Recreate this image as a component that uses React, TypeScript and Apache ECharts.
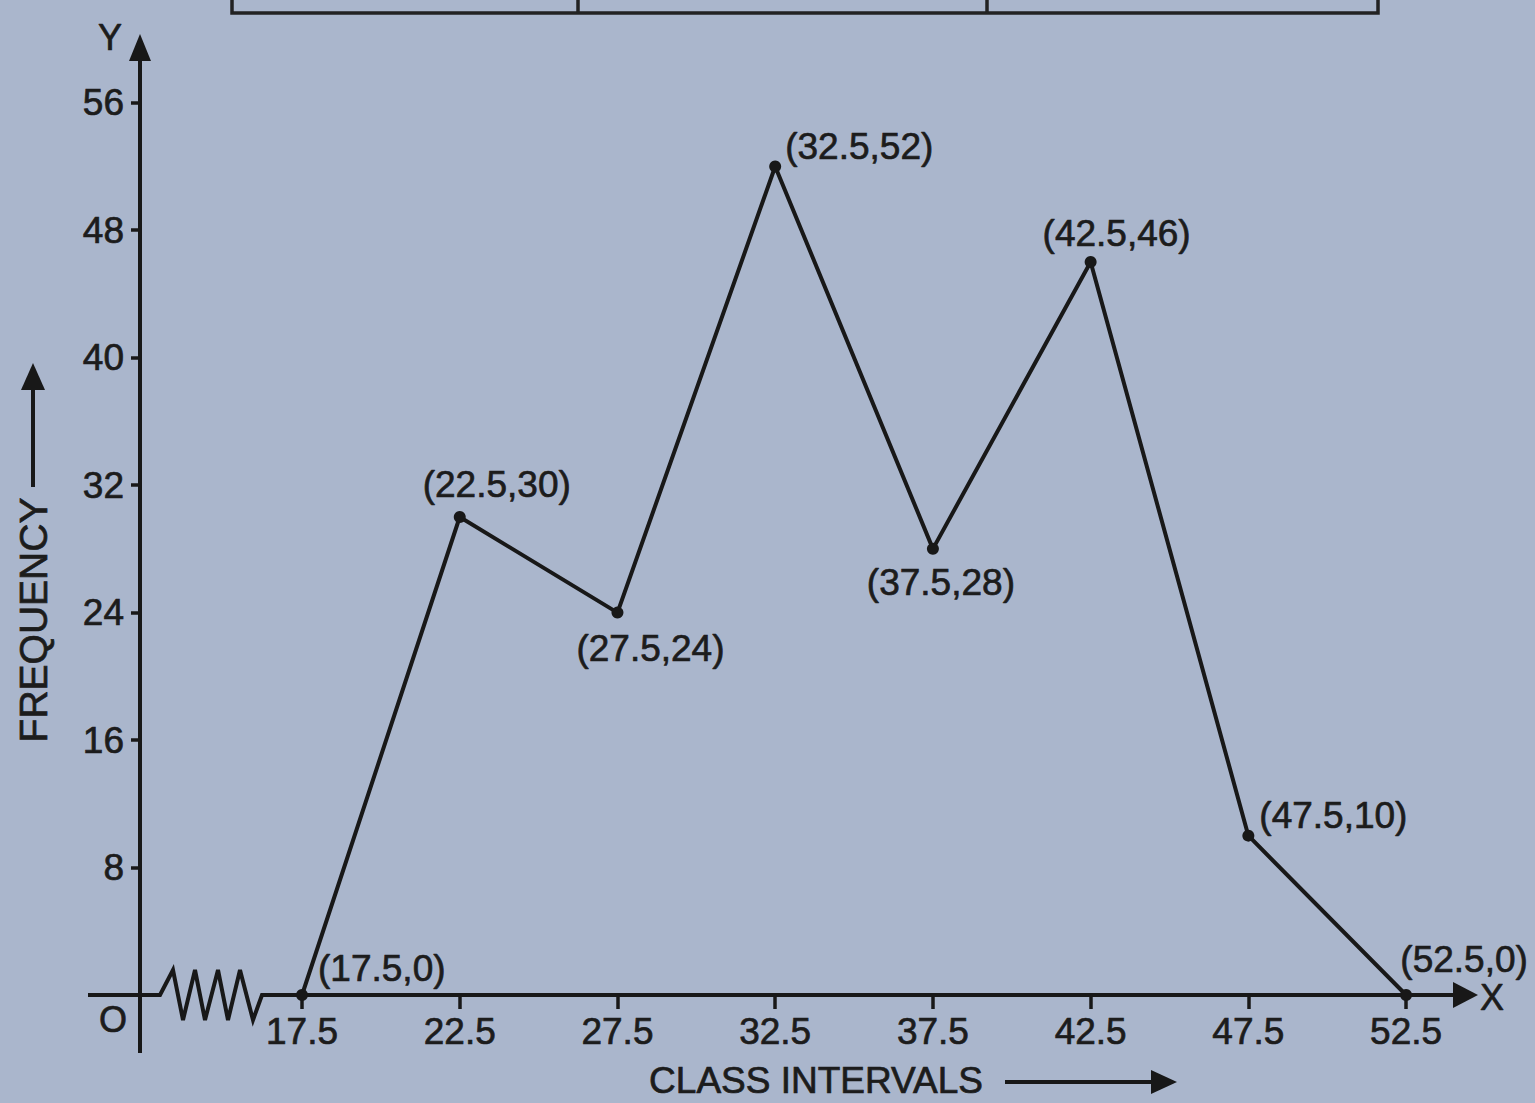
import React, { useEffect, useRef } from "react";
import * as echarts from "echarts";

const xValues = [17.5, 22.5, 27.5, 32.5, 37.5, 42.5, 47.5, 52.5];
const frequencies = [0, 30, 24, 52, 28, 46, 10, 0];
const pointLabels = ["(17.5,0)", "(22.5,30)", "(27.5,24)", "(32.5,52)", "(37.5,28)", "(42.5,46)", "(47.5,10)", "(52.5,0)"];
const yTicks = [8, 16, 24, 32, 40, 48, 56];
const xAxisTitle = "CLASS INTERVALS";
const yAxisTitle = "FREQUENCY";

const INK = "#181818";
const TXT = "#1c1c1c";
const FONT = "'Liberation Sans', Arial, Helvetica, sans-serif";
const BG = "#aab6cc";
const HEAVY = { textBorderColor: TXT, textBorderWidth: 0.7 };

// label placement per point (style only)
const labelPlacement: any[] = [
  { position: "right", distance: 10, offset: [0, -27] },
  { position: "top", distance: 5, offset: [37, -3] },
  { position: "bottom", distance: 5, offset: [33, 6] },
  { position: "right", distance: 4, offset: [0, -20] },
  { position: "bottom", distance: 5, offset: [8, 4] },
  { position: "top", distance: 5, offset: [26, 1] },
  { position: "right", distance: 5, offset: [0, -20] },
  { position: "top", distance: 5, offset: [58, -6] },
];

export default function App() {
  const ref = useRef<HTMLDivElement>(null);
  useEffect(() => {
    const el = ref.current!;
    const chart = echarts.init(el, null, { renderer: "svg" });
    const xMin = 12.364;
    const xMax = 54.78;
    const option: any = {
      animation: false,
      backgroundColor: BG,
      grid: { left: 140, right: 57, top: 39, bottom: 108, outerBoundsMode: "none" },
      xAxis: {
        type: "value",
        min: xMin,
        max: xMax,
        splitLine: { show: false },
        axisLine: { show: false },
        axisTick: {
          show: true,
          customValues: xValues,
          length: 14,
          inside: false,
          lineStyle: { color: INK, width: 3.5 },
        },
        axisLabel: {
          show: true,
          customValues: xValues,
          formatter: (v: number) => v.toFixed(1),
          fontSize: 37,
          fontFamily: FONT,
          color: TXT,
          margin: 18,
          ...HEAVY,
        },
      },
      yAxis: {
        type: "value",
        min: 0,
        max: 60,
        splitLine: { show: false },
        axisLine: { show: false },
        axisTick: {
          show: true,
          customValues: yTicks,
          length: 9,
          inside: false,
          lineStyle: { color: INK, width: 3.5 },
        },
        axisLabel: {
          show: true,
          customValues: yTicks,
          fontSize: 37,
          fontFamily: FONT,
          color: TXT,
          margin: 16,
          ...HEAVY,
        },
      },
      series: [
        {
          type: "line",
          z: 10,
          symbol: "circle",
          symbolSize: 12,
          lineStyle: { color: INK, width: 4 },
          itemStyle: { color: INK },
          label: {
            show: true,
            fontSize: 37,
            fontFamily: FONT,
            color: TXT,
            ...HEAVY,
          },
          data: xValues.map((x, i) => ({
            value: [x, frequencies[i]],
            label: { ...labelPlacement[i], formatter: pointLabels[i] },
          })),
        },
      ],
    };
    chart.setOption(option);

    const o = chart.convertToPixel({ gridIndex: 0 }, [xMin, 0]) as number[];
    const e = chart.convertToPixel({ gridIndex: 0 }, [xMax, 60]) as number[];
    const ox = o[0];
    const oy = o[1];
    const xEnd = e[0];
    const yTop = e[1];
    const zig = [
      [20, 0], [33, -25], [43, 25], [55, -25], [65, 25], [78, -25], [88, 25], [100, -25], [113, 25], [122, 0],
    ].map(([dx, dy]) => [ox + dx, oy + dy]);
    const lineStyle = { stroke: INK, lineWidth: 4, fill: "none", lineJoin: "miter" };
    const textStyle = (text: string, size: number) => ({
      text,
      x: 0,
      y: 0,
      fill: TXT,
      stroke: TXT,
      lineWidth: 0.7,
      fontSize: size,
      fontFamily: FONT,
      align: "center",
      verticalAlign: "middle",
    });
    const graphic: any[] = [
      // x axis with break
      {
        type: "polyline",
        z: 5,
        shape: { points: [[ox - 52, oy], ...zig, [xEnd - 20, oy]] },
        style: lineStyle,
      },
      {
        type: "polygon",
        z: 5,
        shape: { points: [[xEnd - 25, oy - 13], [xEnd, oy], [xEnd - 25, oy + 13]] },
        style: { fill: INK },
      },
      // y axis
      {
        type: "line",
        z: 5,
        shape: { x1: ox, y1: oy + 58, x2: ox, y2: yTop + 20 },
        style: { stroke: INK, lineWidth: 4 },
      },
      {
        type: "polygon",
        z: 5,
        shape: { points: [[ox - 11, yTop + 22], [ox, yTop - 5], [ox + 11, yTop + 22]] },
        style: { fill: INK },
      },
      { type: "text", x: 110, y: 37, style: textStyle("Y", 36) },
      { type: "text", x: xEnd + 14, y: oy + 2, style: textStyle("X", 36) },
      { type: "text", x: ox - 27, y: oy + 24, style: textStyle("O", 36) },
      // y title
      { type: "text", x: 33, y: 620, rotation: Math.PI / 2, style: textStyle(yAxisTitle, 39) },
      {
        type: "line",
        shape: { x1: 33, y1: 487, x2: 33, y2: 388 },
        style: { stroke: INK, lineWidth: 4 },
      },
      {
        type: "polygon",
        shape: { points: [[21, 390], [33, 363], [45, 390]] },
        style: { fill: INK },
      },
      // x title
      { type: "text", x: 816, y: 1080, style: textStyle(xAxisTitle, 37) },
      {
        type: "line",
        shape: { x1: 1005, y1: 1082, x2: 1155, y2: 1082 },
        style: { stroke: INK, lineWidth: 4 },
      },
      {
        type: "polygon",
        shape: { points: [[1151, 1070], [1177, 1082], [1151, 1094]] },
        style: { fill: INK },
      },
      // table border fragment at the top of the page
      {
        type: "polyline",
        shape: { points: [[232, 0], [232, 13], [1378, 13], [1378, 0]] },
        style: { stroke: "#222", lineWidth: 3.5, fill: "none" },
      },
      {
        type: "line",
        shape: { x1: 578, y1: 0, x2: 578, y2: 13 },
        style: { stroke: "#222", lineWidth: 3.5 },
      },
      {
        type: "line",
        shape: { x1: 987, y1: 0, x2: 987, y2: 13 },
        style: { stroke: "#222", lineWidth: 3.5 },
      },
    ];
    chart.setOption({ graphic });
    return () => chart.dispose();
  }, []);
  return (
    <div
      ref={ref}
      style={{ position: "fixed", left: 0, top: 0, width: 1535, height: 1103, background: BG }}
    />
  );
}
